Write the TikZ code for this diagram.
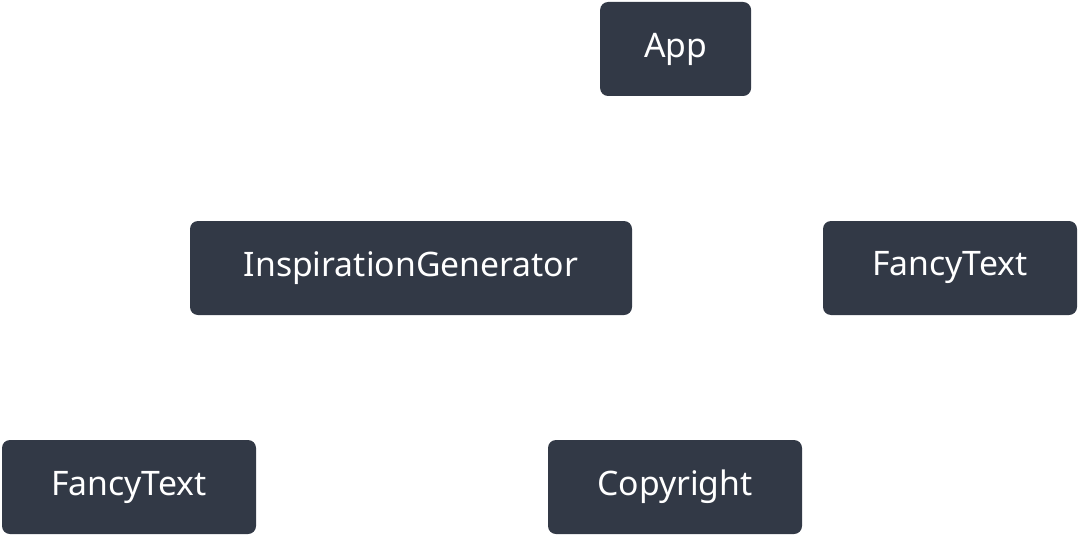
\documentclass[tikz,border=0pt]{standalone}
\usepackage{fontspec}
\setmainfont{Noto Sans}
\definecolor{boxc}{HTML}{323946}
\begin{document}
\begin{tikzpicture}
\useasboundingbox (0,0) rectangle (27,13.5);
\tikzset{box/.style={draw=none,fill=boxc,text=white,rounded corners=0.2cm,minimum height=2.35cm,inner sep=0pt,font=\fontsize{24}{28}\selectfont}}
\node[box,minimum width=3.775cm] (app) at (16.89,12.275) {App};
\node[box,minimum width=11.05cm] (ig) at (10.275,6.8) {InspirationGenerator};
\node[box,minimum width=6.35cm] (ftr) at (23.75,6.8) {FancyText};
\node[box,minimum width=6.35cm] (ftl) at (3.225,1.325) {FancyText};
\node[box,minimum width=6.35cm] (cr) at (16.875,1.325) {Copyright};
\end{tikzpicture}
\end{document}
